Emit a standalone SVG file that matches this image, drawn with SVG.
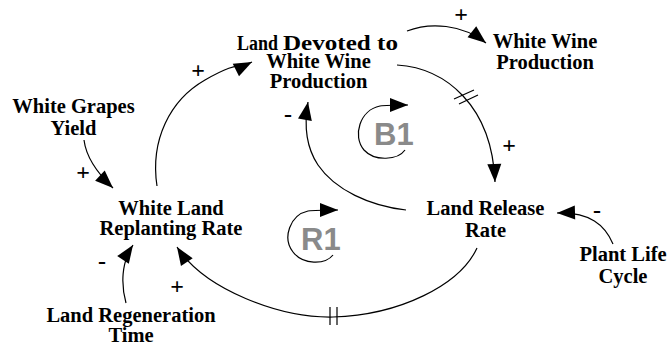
<svg xmlns="http://www.w3.org/2000/svg" width="667" height="345" viewBox="0 0 667 345">
<defs>
<marker id="ah" markerUnits="userSpaceOnUse" markerWidth="19" markerHeight="15" refX="18" refY="7" orient="auto" overflow="visible">
<path d="M0,0 L18,7 L0,14 z" fill="#000"/>
</marker>
<style>
.n{font-family:"Liberation Serif","Times New Roman",serif;font-weight:bold;font-size:20.5px;fill:#000;text-anchor:middle}
.s{font-family:"Liberation Serif","Times New Roman",serif;font-weight:bold;font-size:24px;fill:#000;text-anchor:middle}
.c{fill:none;stroke:#000;stroke-width:1.2}
.a{marker-end:url(#ah)}
.loop{font-family:"Liberation Sans",Arial,sans-serif;font-weight:bold;font-size:31px;fill:#8a8a8a}
</style>
</defs>
<rect width="667" height="345" fill="#fff"/>

<g id="connectors">
<path class="c a" d="M157,186 C150,140 170,100 205,80 S238,69 252,62"/>
<path class="c a" d="M84,140 C86,156 95,171 113,188"/>
<path class="c a" d="M126,303 C121,285 121,263 133,245"/>
<path class="c a" d="M477,248 C460,285 400,315 333,317 C280,318 205,290 177,247"/>
<path class="c a" d="M406,210 C370,206 335,190 318,165 C306,147 304,125 308,102"/>
<path class="c a" d="M397,65 C445,68 492,105 495,182"/>
<path class="c a" d="M407,31 C430,22 462,24 486,43"/>
<path class="c a" d="M613,244 C605,225 590,212 557,213"/>
<path class="c" d="M330,307 V325 M337,307 V325"/>
<path class="c" d="M454,99 L474,90 M459,104 L478,95"/>
</g>

<g id="polarities">
<text class="s" x="198" y="78">+</text>
<text class="s" x="83" y="180">+</text>
<text class="s" x="102" y="269">-</text>
<text class="s" x="177" y="294">+</text>
<text class="s" x="288" y="122">-</text>
<text class="s" x="509" y="153">+</text>
<text class="s" x="461" y="22">+</text>
<text class="s" x="597" y="218">-</text>
</g>

<g id="loop-B1">
<path class="c a" d="M405,150 C398,160 375,162 364,150 C352,136 360,110 380,106 C386,105 395,105 408,105"/>
<text class="loop" x="374" y="145">B1</text>
</g>
<g id="loop-R1">
<path class="c a" d="M333,255 C325,265 303,265 293,252 C282,238 290,215 308,211 C315,210 325,210 338,210"/>
<text class="loop" x="301" y="250">R1</text>
</g>

<g id="node-land-devoted">
<text class="n" x="237" y="50" style="text-anchor:start" textLength="41" lengthAdjust="spacingAndGlyphs">Land</text>
<text class="n" x="283" y="50" style="text-anchor:start;font-size:21.5px" textLength="115" lengthAdjust="spacingAndGlyphs">Devoted to</text>
<text class="n" x="318.5" y="68">White Wine</text>
<text class="n" x="318.5" y="88">Production</text>
</g>
<g id="node-white-wine-production">
<text class="n" x="545" y="48">White Wine</text>
<text class="n" x="545" y="69">Production</text>
</g>
<g id="node-white-grapes-yield">
<text class="n" x="73.5" y="113">White Grapes</text>
<text class="n" x="73.5" y="135">Yield</text>
</g>
<g id="node-white-land-replanting-rate">
<text class="n" x="171" y="215">White Land</text>
<text class="n" x="171" y="235">Replanting Rate</text>
</g>
<g id="node-land-regeneration-time">
<text class="n" x="131" y="322">Land Regeneration</text>
<text class="n" x="131" y="342">Time</text>
</g>
<g id="node-land-release-rate">
<text class="n" x="485.5" y="215">Land Release</text>
<text class="n" x="485.5" y="237">Rate</text>
</g>
<g id="node-plant-life-cycle">
<text class="n" x="623" y="261">Plant Life</text>
<text class="n" x="623" y="283">Cycle</text>
</g>
</svg>
